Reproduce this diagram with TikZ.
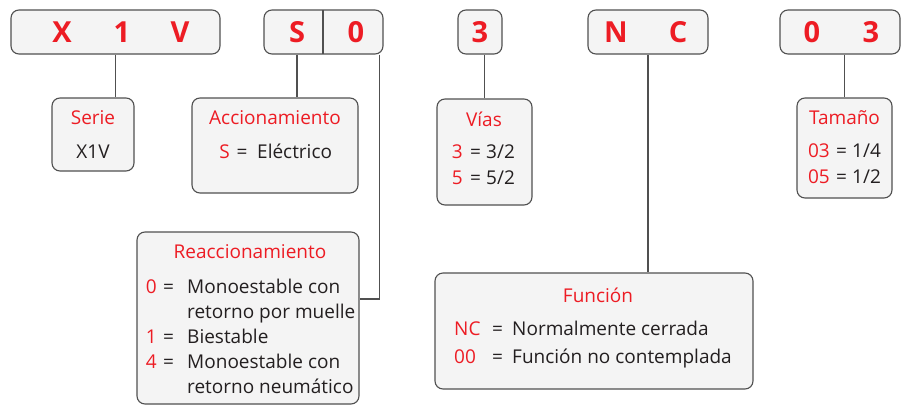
\documentclass[tikz,border=0pt]{standalone}
\usepackage{fontspec}
\setmainfont{Open Sans}
\usetikzlibrary{positioning}
\definecolor{rouge}{HTML}{ED1C24}
\definecolor{fond}{HTML}{F4F4F4}
\definecolor{trait}{HTML}{505050}
\definecolor{encre}{HTML}{231F20}

\tikzset{
  boite/.style={draw=trait, fill=fond, rounded corners=8pt, line width=1.1pt, inner sep=0pt},
  lettre/.style={text=rouge, font=\fontsize{29}{30}\selectfont\bfseries, inner sep=0pt, anchor=base},
  titre/.style={text=rouge, font=\fontsize{19}{22}\selectfont, inner sep=0pt, anchor=base},
  cle/.style={text=rouge, font=\fontsize{19}{22}\selectfont, inner sep=0pt, anchor=base east},
  egal/.style={text=encre, font=\fontsize{19}{22}\selectfont, inner sep=0pt, anchor=base},
  txt/.style={text=encre, font=\fontsize{19}{22}\selectfont, inner sep=0pt, anchor=base west},
  lien/.style={draw=trait, line width=1.1pt}
}

\begin{document}
\begin{tikzpicture}[x=1pt, y=-1pt]
  \useasboundingbox (0,0) rectangle (908,405);

  % Code boxes
  \node[boite, minimum width=209pt, minimum height=44pt] (serieC) at (115.5,32) {};
  \node[boite, minimum width=119pt, minimum height=44pt] (accC) at (323.5,32) {};
  \node[boite, minimum width=44pt, minimum height=44pt] (viasC) at (480,32) {};
  \node[boite, minimum width=120pt, minimum height=44pt] (funC) at (648,32) {};
  \node[boite, minimum width=120pt, minimum height=44pt] (tamC) at (840,32) {};
  \draw[lien] (323,10) -- (323,54);

  % Letters
  \node[lettre] (lX) at (62,42) {X};
  \node[lettre] (l1) at (122,42) {1};
  \node[lettre] (lV) at (180,42) {V};
  \node[lettre] (lS) at (297,42) {S};
  \node[lettre] (l0) at (356,42) {0};
  \node[lettre] (l3) at (480,42) {3};
  \node[lettre] (lN) at (616,42) {N};
  \node[lettre] (lC) at (678,42) {C};
  \node[lettre] (lt0) at (812,42) {0};
  \node[lettre] (lt3) at (871,42) {3};

  % Description boxes
  \node[boite, minimum width=82pt, minimum height=73pt] (serie) at (93,134.5) {};
  \node[boite, minimum width=166pt, minimum height=95pt] (acc) at (275,145.5) {};
  \node[boite, minimum width=95pt, minimum height=106pt] (vias) at (484.5,152) {};
  \node[boite, minimum width=95pt, minimum height=100pt] (tam) at (844.5,148) {};
  \node[boite, minimum width=222pt, minimum height=172pt] (reac) at (248,318) {};
  \node[boite, minimum width=318pt, minimum height=116pt] (fun) at (594,331) {};

  % Connectors
  \draw[lien] (serieC.south) -- (serieC.south |- serie.north);
  \draw[lien] (lS |- accC.south) -- (lS |- acc.north);
  \draw[lien] (vias.north) -- (vias.north |- viasC.south);
  \draw[lien] (funC.south) -- (funC.south |- fun.north);
  \draw[lien] (tam.north) -- (tam.north |- tamC.south);
  \draw[lien] ([xshift=-4pt]accC.south east) |- ([yshift=19pt]reac.east);

  % Serie
  \node[titre] (tSerie) at (93,124) {Serie};
  \node[egal] (vSerie) at (93,158) {X1V};

  % Accionamiento
  \node[titre] (tAcc) at (275,124) {Accionamiento};
  \node[cle] (kS) at (230,158) {S};
  \node[egal] (eS) at (242,158) {=};
  \node[txt] (vS) at (257,158) {Eléctrico};

  % Reaccionamiento
  \node[titre] (tReac) at (250,258) {Reaccionamiento};
  \node[cle] (k0) at (157,293) {0};
  \node[egal] (e0) at (168.5,293) {=};
  \node[txt] (v0a) at (187,293) {Monoestable con};
  \node[txt] (v0b) at (187,318) {retorno por muelle};
  \node[cle] (k1) at (157,343) {1};
  \node[egal] (e1) at (168.5,343) {=};
  \node[txt] (v1) at (187,343) {Biestable};
  \node[cle] (k4) at (157,368) {4};
  \node[egal] (e4) at (168.5,368) {=};
  \node[txt] (v4a) at (187,368) {Monoestable con};
  \node[txt] (v4b) at (187,393) {retorno neumático};

  % Vias
  \node[titre] (tVias) at (484,126) {Vías};
  \node[cle] (k3) at (463,158) {3};
  \node[egal] (e3) at (475.5,158) {=};
  \node[txt] (v3) at (486,158) {3/2};
  \node[cle] (k5) at (463,184) {5};
  \node[egal] (e5) at (475.5,184) {=};
  \node[txt] (v5) at (486,184) {5/2};

  % Tamano
  \node[titre] (tTam) at (844.5,124) {Tamaño};
  \node[cle] (k03) at (830,157) {03};
  \node[egal] (e03) at (841.5,157) {=};
  \node[txt] (v03) at (852,157) {1/4};
  \node[cle] (k05) at (830,183) {05};
  \node[egal] (e05) at (841.5,183) {=};
  \node[txt] (v05) at (852,183) {1/2};

  % Funcion
  \node[titre] (tFun) at (598,302) {Función};
  \node[cle, anchor=base west] (kNC) at (454,335) {NC};
  \node[egal] (eNC) at (497.5,335) {=};
  \node[txt] (vNC) at (512,335) {Normalmente cerrada};
  \node[cle, anchor=base west] (k00) at (454,363) {00};
  \node[egal] (e00) at (497.5,363) {=};
  \node[txt] (v00) at (512,363) {Función no contemplada};
\end{tikzpicture}
\end{document}
